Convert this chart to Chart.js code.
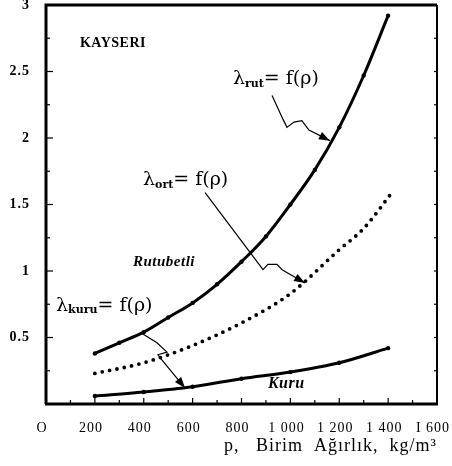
<!DOCTYPE html>
<html lang="tr">
<head>
    <meta charset="utf-8"/>
    <title>Kayseri - Birim Ağırlık</title>
    <script src="https://cdn.jsdelivr.net/npm/chart.js"></script>
    <style>
        html, body { margin: 0; padding: 0; background: #fff; }
        #wrap { width: 452px; height: 466px; }
    </style>
</head>
<body>
<div id="wrap">
    <canvas id="chart" width="452" height="466"></canvas>
</div>
<script>
// values
const rutX = [200, 300, 400, 500, 600, 700, 800, 900, 1000, 1100, 1200, 1300, 1400];
const rutY = [0.38, 0.46, 0.54, 0.65, 0.76, 0.9, 1.07, 1.26, 1.5, 1.76, 2.08, 2.47, 2.92];

const ortX = [200, 400, 600, 800, 1000, 1200, 1300, 1420];
const ortY = [0.23, 0.31, 0.44, 0.61, 0.83, 1.16, 1.32, 1.6];

const kuruX = [200, 400, 600, 800, 1000, 1200, 1400];
const kuruY = [0.06, 0.09, 0.13, 0.19, 0.24, 0.31, 0.42];

const xTickLabels = ['O', '200', '400', '600', '800', '1 000', '1 200', '1 400', 'I 600'];
const yTickLabels = ['', '0.5', '1', '1.5', '2', '2.5', '3'];

const serif = '"Liberation Serif", "DejaVu Serif", serif';
const wideSerif = '"DejaVu Serif", serif';

function pts(xs, ys) {
    return xs.map((x, i) => ({ x: x, y: ys[i] }));
}

// text and leader arrows, placed in data units
const notes = [
    { text: 'KAYSERI', x: 139, y: 2.71, font: 'bold 14px ' + serif, spacing: '0.5px' },
    { text: 'Rutubetli', x: 356, y: 1.07, font: 'italic bold 15px ' + serif, spacing: '0.5px' },
    { text: 'Kuru', x: 908, y: 0.15, font: 'italic bold 16px ' + serif, spacing: '0.5px' }
];
const lambdas = [
    { sub: 'rut', x: 765, y: 2.44 },
    { sub: 'ort', x: 397, y: 1.68 },
    { sub: 'kuru', x: 41, y: 0.74 }
];
const leaders = [
    [[925, 2.32], [970, 2.14], [986, 2.08], [1015, 2.12], [1047, 2.13], [1076, 2.06], [1162, 1.98]],
    [[651, 1.59], [835, 1.14], [888, 1.01], [908, 1.05], [945, 1.05], [966, 1.01], [1060, 0.91]],
    [[385, 0.54], [454, 0.46], [495, 0.39], [458, 0.37], [475, 0.33], [569, 0.12]]
];

const decor = {
    id: 'decor',
    beforeDraw(chart) {
        // the scanned axis text is loosely spaced
        chart.ctx.letterSpacing = '1px';
    },
    beforeDatasetsDraw(chart) {
        chart.ctx.letterSpacing = '0px';
    },
    afterDatasetsDraw(chart) {
        const ctx = chart.ctx;
        const xs = chart.scales.x, ys = chart.scales.y;
        const a = chart.chartArea;
        ctx.save();
        ctx.strokeStyle = '#000';
        ctx.fillStyle = '#000';

        // frame
        ctx.lineWidth = 3;
        ctx.beginPath();
        ctx.moveTo(a.left, a.bottom);
        ctx.lineTo(a.left, a.top);
        ctx.lineTo(a.right, a.top);
        ctx.stroke();
        ctx.lineWidth = 2;
        ctx.beginPath();
        ctx.moveTo(a.right, a.top);
        ctx.lineTo(a.right, a.bottom);
        ctx.stroke();
        ctx.lineWidth = 3;
        ctx.beginPath();
        ctx.moveTo(a.left - 1, a.bottom);
        ctx.lineTo(a.right + 1, a.bottom);
        ctx.stroke();

        // inward ticks
        ctx.lineWidth = 1.2;
        for (let v = 100; v < 1600; v += 100) {
            const px = xs.getPixelForValue(v);
            const len = v % 200 === 0 ? 6 : 4;
            ctx.beginPath();
            ctx.moveTo(px, a.bottom);
            ctx.lineTo(px, a.bottom - len);
            ctx.stroke();
        }
        for (let v = 0.25; v < 3; v += 0.25) {
            const py = ys.getPixelForValue(v);
            const len = Math.abs(v * 2 - Math.round(v * 2)) < 0.01 ? 7 : 4;
            ctx.beginPath();
            ctx.moveTo(a.left, py);
            ctx.lineTo(a.left + len, py);
            ctx.stroke();
            ctx.beginPath();
            ctx.moveTo(a.right, py);
            ctx.lineTo(a.right - 3, py);
            ctx.stroke();
        }

        // plain notes
        ctx.textBaseline = 'middle';
        ctx.textAlign = 'left';
        notes.forEach(n => {
            ctx.font = n.font;
            ctx.letterSpacing = n.spacing;
            ctx.fillText(n.text, xs.getPixelForValue(n.x), ys.getPixelForValue(n.y));
        });
        ctx.letterSpacing = '0px';

        // lambda = f(rho) labels
        lambdas.forEach(l => {
            let px = xs.getPixelForValue(l.x);
            const py = ys.getPixelForValue(l.y);
            ctx.font = '19px ' + wideSerif;
            ctx.fillText('\u03bb', px, py);
            px += ctx.measureText('\u03bb').width;
            ctx.font = 'bold 11px ' + wideSerif;
            ctx.fillText(l.sub, px, py + 5);
            px += ctx.measureText(l.sub).width;
            ctx.font = '19px ' + wideSerif;
            ctx.fillText('= f(\u03c1)', px, py);
        });

        // leader lines with arrow heads
        ctx.lineWidth = 1.2;
        leaders.forEach(path => {
            const p = path.map(q => [xs.getPixelForValue(q[0]), ys.getPixelForValue(q[1])]);
            ctx.beginPath();
            ctx.moveTo(p[0][0], p[0][1]);
            for (let i = 1; i < p.length; i++) ctx.lineTo(p[i][0], p[i][1]);
            ctx.stroke();
            const [x1, y1] = p[p.length - 2];
            const [x2, y2] = p[p.length - 1];
            const ang = Math.atan2(y2 - y1, x2 - x1);
            const L = 11, W = 4;
            ctx.beginPath();
            ctx.moveTo(x2, y2);
            ctx.lineTo(x2 - L * Math.cos(ang) + W * Math.sin(ang), y2 - L * Math.sin(ang) - W * Math.cos(ang));
            ctx.lineTo(x2 - L * Math.cos(ang) - W * Math.sin(ang), y2 - L * Math.sin(ang) + W * Math.cos(ang));
            ctx.closePath();
            ctx.fill();
        });
        ctx.restore();
    }
};

new Chart(document.getElementById('chart'), {
    type: 'line',
    data: {
        datasets: [
            {
                label: 'Rutubetli',
                data: pts(rutX, rutY),
                borderColor: '#000',
                backgroundColor: '#000',
                borderWidth: 3,
                pointRadius: 2.2,
                pointBorderWidth: 0,
                cubicInterpolationMode: 'monotone'
            },
            {
                label: 'Ortalama',
                data: pts(ortX, ortY),
                borderColor: '#000',
                borderWidth: 3.8,
                borderDash: [0, 7.5],
                borderCapStyle: 'round',
                pointRadius: 0,
                cubicInterpolationMode: 'monotone'
            },
            {
                label: 'Kuru',
                data: pts(kuruX, kuruY),
                borderColor: '#000',
                backgroundColor: '#000',
                borderWidth: 3,
                pointRadius: 2.2,
                pointBorderWidth: 0,
                cubicInterpolationMode: 'monotone'
            }
        ]
    },
    options: {
        responsive: false,
        animation: false,
        layout: { padding: { left: 0, right: 15, top: 5, bottom: 0 } },
        plugins: {
            legend: { display: false },
            tooltip: { enabled: false }
        },
        scales: {
            x: {
                type: 'linear',
                min: 0,
                max: 1600,
                afterFit: s => {
                    s.height = 62;
                    s.paddingLeft = 0;
                    s.paddingRight = 0;
                },
                border: { display: false },
                grid: { display: false },
                ticks: {
                    stepSize: 200,
                    padding: 8,
                    labelOffset: -4,
                    color: '#000',
                    maxRotation: 0,
                    font: { family: serif, size: 14 },
                    callback: (v) => xTickLabels[Math.round(v / 200)]
                },
                title: {
                    display: true,
                    align: 'end',
                    text: 'p,   Birim  Ağırlık,  kg/m³',
                    color: '#000',
                    font: { family: serif, size: 18 },
                    padding: { top: 0, bottom: 9 }
                }
            },
            y: {
                min: 0,
                max: 3,
                afterFit: s => {
                    s.width = 46;
                    s.paddingTop = 0;
                    s.paddingBottom = 0;
                },
                border: { display: false },
                grid: { display: false },
                ticks: {
                    stepSize: 0.5,
                    padding: 8,
                    color: '#000',
                    font: { family: serif, size: 14, weight: 'bold' },
                    callback: (v) => yTickLabels[Math.round(v * 2)]
                }
            }
        }
    },
    plugins: [decor]
});
</script>
</body>
</html>
